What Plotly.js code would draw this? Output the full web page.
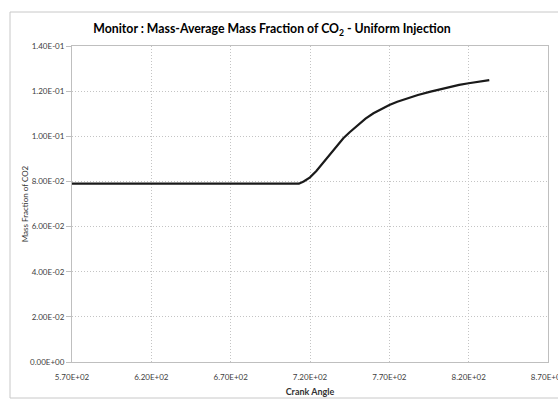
<!DOCTYPE html>
<html>
<head>
<meta charset="utf-8">
<script src="https://cdn.plot.ly/plotly-3.0.1.min.js"></script>
<style>
html,body{margin:0;padding:0;background:#fff;}
#chart{width:558px;height:401px;}
</style>
</head>
<body>
<div id="chart"></div>
<script>
// Data
const crankAngle = [570, 600, 650, 700, 713, 716, 720, 724, 728, 731, 735, 741, 745, 750, 755, 760, 765, 770, 775, 781, 788, 796, 802, 808, 814, 820, 827, 833];
const massFraction = [0.079, 0.079, 0.079, 0.079, 0.079, 0.0800, 0.0818, 0.0846, 0.0880, 0.0905, 0.0939, 0.0991, 0.1018, 0.1050, 0.1078, 0.1102, 0.1122, 0.1139, 0.1153, 0.1168, 0.1183, 0.1198, 0.1209, 0.1220, 0.1228, 0.1235, 0.1242, 0.1249];
const xTickVals = [570, 620, 670, 720, 770, 820, 870];
const xTickText = ["5.70E+02", "6.20E+02", "6.70E+02", "7.20E+02", "7.70E+02", "8.20E+02", "8.70E+02"];
const yTickVals = [0, 0.02, 0.04, 0.06, 0.08, 0.10, 0.12, 0.14];
const yTickText = ["0.00E+00", "2.00E-02", "4.00E-02", "6.00E-02", "8.00E-02", "1.00E-01", "1.20E-01", "1.40E-01"];

const FONT = "Lato, 'Liberation Sans', Arial, sans-serif";

const trace = {
  x: crankAngle,
  y: massFraction,
  type: 'scatter',
  mode: 'lines',
  line: {color: '#1a1a1a', width: 2.2, shape: 'linear'},
  hoverinfo: 'skip'
};

const layout = {
  width: 558, height: 401,
  margin: {l: 72, r: 10, t: 46, b: 39},
  paper_bgcolor: '#ffffff',
  plot_bgcolor: '#ffffff',
  showlegend: false,
  title: {
    text: '<b>Monitor : Mass-Average Mass Fraction of CO<sub>2</sub> - Uniform Injection</b>',
    font: {family: FONT, size: 12.3, color: '#000000'},
    xref: 'container', x: 0.4875, xanchor: 'center',
    yref: 'container', y: 0.928, yanchor: 'middle'
  },
  xaxis: {
    range: [570, 870],
    tickmode: 'array', tickvals: xTickVals, ticktext: xTickText,
    tickfont: {family: FONT, size: 8, color: '#404040'},
    ticklabeloverflow: 'allow',
    ticklabelstandoff: 7,
    showgrid: true, gridcolor: '#c4c4c4', griddash: '1px,2px', gridwidth: 1,
    showline: true, linecolor: '#bfbfbf', linewidth: 1, mirror: true,
    ticks: '',
    zeroline: false,
    title: {text: '<b>Crank Angle</b>', font: {family: FONT, size: 9, color: '#333333'}, standoff: 8}
  },
  yaxis: {
    range: [0, 0.14],
    tickmode: 'array', tickvals: yTickVals, ticktext: yTickText,
    tickfont: {family: FONT, size: 8, color: '#404040'},
    showgrid: true, gridcolor: '#c4c4c4', griddash: '1px,2px', gridwidth: 1,
    showline: true, linecolor: '#bfbfbf', linewidth: 1, mirror: true,
    ticks: 'outside', ticklen: 5, tickcolor: '#bfbfbf',
    zeroline: false,
    title: {text: 'Mass Fraction of CO2', font: {family: FONT, size: 8, color: '#333333'}, standoff: 0}
  },
  shapes: [{
    type: 'rect', xref: 'paper', yref: 'paper',
    x0: (10 - 72) / 476, x1: (575 - 72) / 476,
    y0: (362 - 398) / 316, y1: (362 - 12) / 316,
    line: {color: '#c8c8c8', width: 1}, fillcolor: 'rgba(0,0,0,0)', layer: 'below'
  }]
};

Plotly.newPlot('chart', [trace], layout, {displayModeBar: false, staticPlot: true});
</script>
</body>
</html>
